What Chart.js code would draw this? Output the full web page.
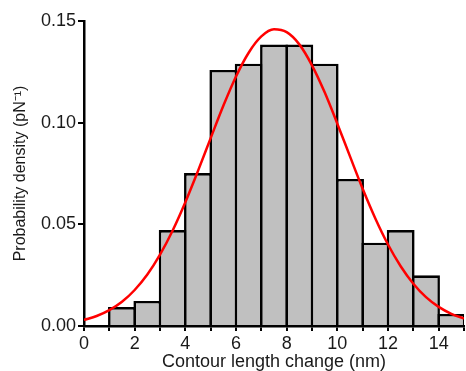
<!DOCTYPE html>
<html>
<head>
<meta charset="utf-8">
<script src="https://cdn.jsdelivr.net/npm/chart.js@4/dist/chart.umd.min.js"></script>
<style>
html,body{margin:0;padding:0;background:#fff;}
#wrap{width:466px;height:371px;}
</style>
</head>
<body>
<div id="wrap"><canvas id="c" width="466" height="371"></canvas></div>
<script>
// Histogram bin centres (nm) and probability densities
const binCenters = [1.5, 2.5, 3.5, 4.5, 5.5, 6.5, 7.5, 8.5, 9.5, 10.5, 11.5, 12.5, 13.5, 14.5];
const binDensity = [0.0093, 0.0123, 0.0472, 0.0752, 0.1259, 0.129, 0.1384, 0.1384, 0.129, 0.0723, 0.041, 0.0472, 0.0249, 0.0059];
// Fitted curve
const curveX = [0, 0.5, 1, 1.5, 2, 2.5, 3, 3.5, 4, 4.5, 5, 5.5, 6, 6.5, 7, 7.5, 8, 8.5, 9, 9.5, 10, 10.5, 11, 11.5, 12, 12.5, 13, 13.5, 14, 14.5, 15];
const curveY = [0.0030, 0.0049, 0.0078, 0.0119, 0.0177, 0.0253, 0.0351, 0.0470, 0.0609, 0.0763, 0.0924, 0.1083, 0.1227, 0.1344, 0.1424, 0.1459, 0.1445, 0.1385, 0.1282, 0.1149, 0.0995, 0.0834, 0.0675, 0.0529, 0.0401, 0.0294, 0.0208, 0.0142, 0.0094, 0.0060, 0.0037];
const xLabelValues = [0, 2, 4, 6, 8, 10, 12, 14];
const yTickValues = [0, 0.05, 0.10, 0.15];
const xTitle = 'Contour length change (nm)';
const yTitle = 'Probability density (pN\u207B\u00B9)';

const FONT = "'Liberation Sans', Arial, sans-serif";
const TXT = '#1a1a1a';

new Chart(document.getElementById('c'), {
  data: {
    datasets: [
      {
        type: 'line',
        order: 0,
        data: curveX.map((x, i) => ({x: x, y: curveY[i]})),
        borderColor: '#ff0000',
        borderWidth: 2.5,
        pointRadius: 0,
        tension: 0.4,
        cubicInterpolationMode: 'monotone',
        fill: false
      },
      {
        type: 'bar',
        order: 1,
        data: binCenters.map((x, i) => ({x: x, y: binDensity[i]})),
        backgroundColor: '#c0c0c0',
        borderColor: '#000000',
        borderWidth: 2.6,
        borderSkipped: 'bottom',
        barPercentage: 1.1,
        categoryPercentage: 1,
        grouped: false
      }
    ]
  },
  options: {
    responsive: false,
    animation: false,
    devicePixelRatio: 1,
    layout: {padding: {top: 21, left: 0, right: 1, bottom: 0}},
    plugins: {legend: {display: false}, tooltip: {enabled: false}},
    scales: {
      x: {
        type: 'linear',
        offset: false,
        min: 0, max: 15,
        afterFit: s => { s.height = 45; },
        afterBuildTicks: s => { s.ticks = []; for (let v = 0; v <= 15; v++) s.ticks.push({value: v}); },
        ticks: {
          autoSkip: false,
          maxRotation: 0,
          padding: 2,
          color: TXT,
          font: {family: FONT, size: 18},
          callback: v => xLabelValues.includes(v) ? String(v) : ''
        },
        grid: {display: true, offset: false, drawOnChartArea: false, drawTicks: true, tickLength: 5, color: '#000', lineWidth: 2},
        border: {display: true, color: '#000', width: 2.5},
        title: {display: true, text: xTitle, color: TXT, font: {family: FONT, size: 18}, padding: {top: 0, bottom: -2}}
      },
      y: {
        type: 'linear',
        min: 0, max: 0.15,
        afterFit: s => { s.width = 84; },
        afterBuildTicks: s => { s.ticks = yTickValues.map(v => ({value: v})); },
        ticks: {
          padding: 2,
          color: TXT,
          font: {family: FONT, size: 18},
          callback: v => v.toFixed(2)
        },
        grid: {display: true, drawOnChartArea: false, drawTicks: true, tickLength: 6, color: '#000', lineWidth: 2},
        border: {display: true, color: '#000', width: 2.5},
        title: {display: true, text: yTitle, color: TXT, font: {family: FONT, size: 16}, padding: {top: 11, bottom: 0}}
      }
    }
  }
});
</script>
</body>
</html>
